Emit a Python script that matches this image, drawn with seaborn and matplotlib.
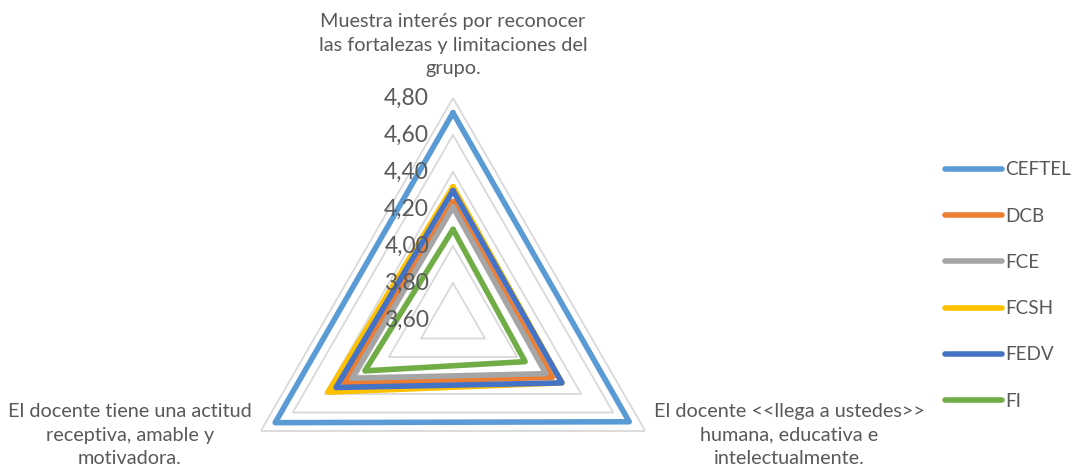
import numpy as np
import pandas as pd
import matplotlib.pyplot as plt
import seaborn as sns
from matplotlib.transforms import offset_copy

# ejes del radar (orden de Excel: arriba, abajo-derecha, abajo-izquierda)
categorias = [
    "Muestra interés por reconocer\nlas fortalezas y limitaciones del\ngrupo.",
    "El docente <<llega a ustedes>>\nhumana, educativa e\nintelectualmente.",
    "El docente tiene una actitud\nreceptiva, amable y\nmotivadora.",
]
grupos = ["CEFTEL", "DCB", "FCE", "FCSH", "FEDV", "FI"]
ceftel = [4.72, 4.70, 4.71]
dcb = [4.24, 4.22, 4.28]
fce = [4.21, 4.18, 4.23]
fcsh = [4.32, 4.28, 4.38]
fedv = [4.30, 4.28, 4.33]
fi = [4.09, 4.05, 4.15]
ticks = [3.60, 3.80, 4.00, 4.20, 4.40, 4.60, 4.80]
tick_labels = ["3,60", "3,80", "4,00", "4,20", "4,40", "4,60", "4,80"]

colores = ["#5B9BD5", "#ED7D31", "#A5A5A5", "#FFC000", "#4472C4", "#70AD47"]
gris = "#595959"

sns.set_theme(style="white")
plt.rcParams['font.family'] = ['Lato', 'DejaVu Sans']

angulos = np.deg2rad([0, 120, 240])
theta_cerrado = np.append(angulos, 2 * np.pi)

filas = []
for g, vals in zip(grupos, [ceftel, dcb, fce, fcsh, fedv, fi]):
    for th, v in zip(theta_cerrado, vals + vals[:1]):
        filas.append({"grupo": g, "theta": th, "valor": v})
df = pd.DataFrame(filas)

fig = plt.figure(figsize=(10.78, 4.72), dpi=100)
ax = fig.add_axes([231 / 1078, -70 / 472, 444 / 1078, 444 / 472], projection="polar")
ax.set_theta_zero_location("N")
ax.set_theta_direction(-1)
ax.set_ylim(ticks[0], ticks[-1])
ax.grid(False)
ax.spines["polar"].set_visible(False)
ax.set_xticks([])
ax.set_yticks([])
ax.set_facecolor("none")

# rejilla triangular
for t in ticks[1:]:
    ax.plot(theta_cerrado, [t] * 4, color="#D9D9D9", lw=1.3, zorder=0)

sns.lineplot(data=df, x="theta", y="valor", hue="grupo", hue_order=grupos,
             palette=colores, sort=False, estimator=None, linewidth=4,
             solid_capstyle="round", ax=ax)

h, l = ax.get_legend_handles_labels()
ax.get_legend().remove()
for hd in h:
    hd.set_linewidth(4)
    hd.set_solid_capstyle("round")
fig.legend(h, l, loc="center left", bbox_to_anchor=(945 / 1078, 0.395),
           frameon=False, fontsize=13.6, handlelength=3.0, handletextpad=0.2,
           labelspacing=1.55, borderpad=0, borderaxespad=0, labelcolor=gris)

# etiquetas del eje radial
for t, lab in zip(ticks, tick_labels):
    tr = offset_copy(ax.transData, fig=fig, x=-24, y=0, units="dots")
    ax.text(0, t, lab, transform=tr, ha="right", va="center", fontsize=16.5, color=gris)

# etiquetas de categorías
offsets = [(0, 53), (144, -4), (-131, -4)]
for th, cat, (dx, dy) in zip(angulos, categorias, offsets):
    tr = offset_copy(ax.transData, fig=fig, x=dx, y=dy, units="dots")
    ax.text(th, ticks[-1], cat, transform=tr, ha="center", va="center",
            multialignment="center", fontsize=14.3, color=gris, linespacing=1.47)

fig.savefig("out.png", dpi=100)
